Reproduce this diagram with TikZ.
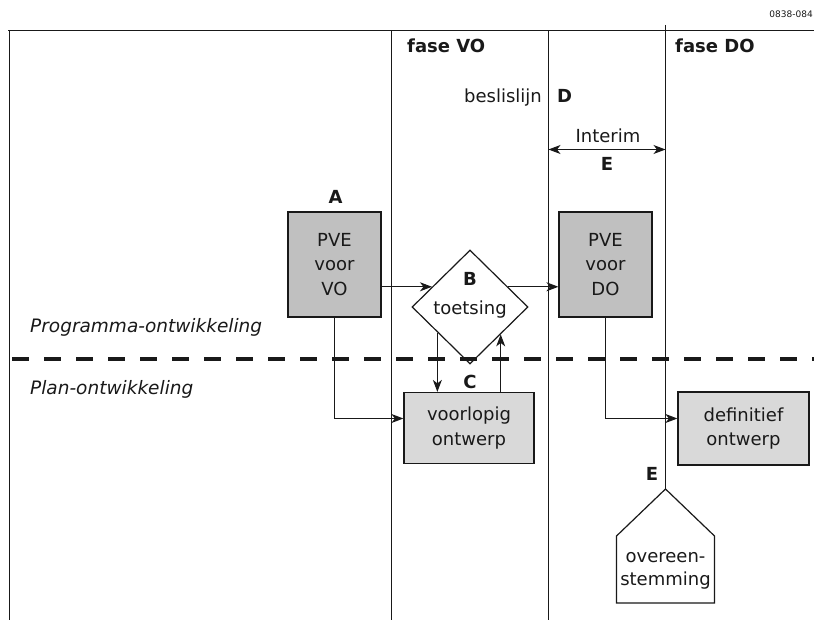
\documentclass[tikz,border=0pt]{standalone}
\usepackage{fontspec}
\setmainfont{DejaVu Sans}
\usetikzlibrary{arrows.meta,shapes.geometric,calc}
\definecolor{boxdark}{RGB}{192,192,192}
\definecolor{boxlight}{RGB}{217,217,217}
\definecolor{ink}{RGB}{25,25,25}
\begin{document}
\begin{tikzpicture}[x=1pt,y=-1pt,
  txt/.style={font=\fontsize{18}{24}\selectfont, inner sep=0pt, text=ink},
  itl/.style={font=\fontsize{18.5}{24}\selectfont\itshape, inner sep=0pt, text=ink},
  lbl/.style={font=\fontsize{18}{22}\selectfont\bfseries, inner sep=0pt, text=ink},
  box/.style={draw=ink, line width=1.2pt, inner sep=0pt, align=center, text=ink,
    font=\fontsize{18}{24.5}\selectfont},
  rule/.style={line width=1pt, draw=ink},
  arr/.style={line width=1pt, draw=ink, -{Stealth[length=12pt,width=9pt,inset=3.5pt]}},
  darr/.style={line width=1pt, draw=ink, {Stealth[length=12pt,width=9pt,inset=3.5pt]}-{Stealth[length=12pt,width=9pt,inset=3.5pt]}},
]
\useasboundingbox (0,0) rectangle (814,620);

% frame and phase lines
\coordinate (tl) at (8,30.5);
\coordinate (tr) at (814,30.5);
\coordinate (ltop) at (9.5,30.5);
\coordinate (lbot) at (9.5,620);
\coordinate (v1top) at (391.5,30.5);
\coordinate (v1bot) at (391.5,620);
\coordinate (v2top) at (548.5,30.5);
\coordinate (v2bot) at (548.5,620);
\coordinate (v3top) at (665.5,25);
\coordinate (apex) at (665.5,489);
\draw[rule] (tl) -- (tr);
\draw[rule] (ltop) -- (lbot);
\draw[rule] (v1top) -- (v1bot);
\draw[rule] (v2top) -- (v2bot);
\draw[rule] (v3top) -- (apex);

% header texts
\node[font=\fontsize{9}{10}\selectfont, inner sep=0pt, text=ink, anchor=base east] (code) at (813,18) {0838-084};
\node[lbl, anchor=base west] (fasevo) at (407,53) {fase VO};
\node[lbl, anchor=base west] (fasedo) at (675,53) {fase DO};
\node[txt, anchor=base east] (besl) at (542,103) {beslislijn};
\node[lbl, anchor=base west] (D) at (557,103) {D};
\node[txt, anchor=base] (interim) at (608,143) {Interim};
\coordinate (iL) at (548.5,149.5);
\coordinate (iR) at (665.5,149.5);
\draw[darr] (iL) -- (iR);
\node[lbl, anchor=base] (E1) at (607,171) {E};

% side labels
\node[itl, anchor=base west] (prog) at (30,333) {Programma-ontwikkeling};
\node[itl, anchor=base west] (plan) at (30,394) {Plan-ontwikkeling};

% boxes
\node[box, fill=boxdark, minimum width=93pt, minimum height=105pt] (pvevo) at (334.5,264.5) {PVE\\voor\\VO};
\node[lbl, anchor=base] (A) at (335.5,204) {A};
\node[box, fill=boxdark, minimum width=93pt, minimum height=105pt] (pvedo) at (605.5,264.5) {PVE\\voor\\DO};
\node[box, fill=boxlight, minimum width=130pt, minimum height=71pt] (vo) at (469,428) {voorlopig\\ontwerp};
\node[box, fill=boxlight, minimum width=131pt, minimum height=73pt] (do) at (743.5,428.5) {definitief\\ontwerp};

% diamond
\node[diamond, draw=ink, fill=white, line width=1.2pt, inner sep=0pt, minimum width=116pt, minimum height=114pt] (diam) at (470,307) {};
\node[lbl, anchor=base] (B) at (470,286) {B};
\node[txt, anchor=base] (toets) at (470,315) {toetsing};
\node[lbl, anchor=base] (C) at (470,388) {C};

% connectors
\coordinate (inB) at ($(diam.west)!0.351!(diam.north)$);
\coordinate (outB) at ($(diam.east)!0.351!(diam.north)$);
\coordinate (downB) at ($(diam.west)!0.443!(diam.south)$);
\coordinate (upB) at ($(diam.east)!0.476!(diam.south)$);
\coordinate (h418) at (0,418.5);
\draw[arr] (pvevo.east |- inB) -- (inB);
\draw[arr] (outB) -- (pvedo.west |- outB);
\draw[arr] (downB) -- (downB |- vo.north);
\draw[arr] (upB |- vo.north) -- (upB);
\draw[arr] (pvevo.south) |- (vo.west |- h418);
\draw[arr] (pvedo.south) |- (do.west |- h418);

% dashed separator
\coordinate (dL) at (12,359);
\coordinate (dR) at (814,359);
\draw[draw=ink, line width=4pt, dash pattern=on 17pt off 15pt] (dL) -- (dR);

% overeenstemming
\node[lbl, anchor=base] (E2) at (652,480) {E};
\draw[rule, line width=1.2pt, fill=white] (apex) -- (714.5,536) -- (714.5,603) -- (616.5,603) -- (616.5,536) -- cycle;
\node[txt, align=center, font=\fontsize{18}{23.5}\selectfont] (overeen) at (665.5,570.6) {overeen-\\stemming};
\end{tikzpicture}
\end{document}
